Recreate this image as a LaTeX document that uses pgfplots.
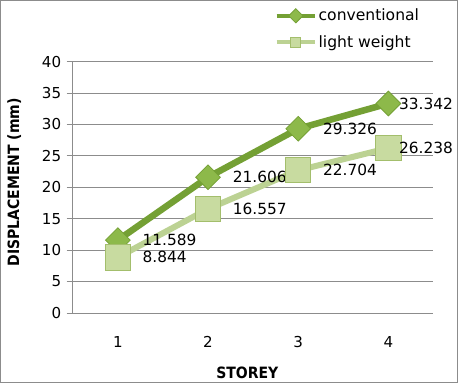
\documentclass[border=0pt]{standalone}
\usepackage{pgfplots}
\pgfplotsset{compat=1.18}
\usepackage{fontspec}
\setmainfont{DejaVu Sans}
\newfontfamily\labfont{DejaVu Sans Condensed}
\definecolor{conv}{HTML}{74A034}
\definecolor{convfill}{HTML}{8DB94A}
\definecolor{lw}{HTML}{BCD293}
\definecolor{lwfill}{HTML}{C8DBA0}
\definecolor{lwdraw}{HTML}{A3BE6C}
\definecolor{gridc}{HTML}{8C8C8C}
\begin{document}
\begin{tikzpicture}[x=1pt,y=1pt]
\begin{axis}[
  at={(0,0)}, anchor=south west,
  scale only axis, width=359pt, height=250pt,
  xmin=0.5, xmax=4.5, ymin=0, ymax=40,
  xtick={1,2,3,4}, ytick={0,5,...,40},
  /pgf/number format/assume math mode=true,
  tick label style={font=\fontsize{15}{17}\selectfont, text=black},
  xtick style={draw=none},
  ytick style={draw=gridc, line width=0.8pt},
  tick align=outside, major tick length=6pt,
  ymajorgrids, grid style={draw=gridc, line width=0.8pt},
  axis line style={draw=gridc, line width=0.8pt},
  axis x line*=bottom, axis y line*=left,
  xticklabel style={yshift=-14pt},
  yticklabel style={xshift=-2pt},
  xlabel={\labfont\bfseries STOREY}, ylabel={\labfont\bfseries DISPLACEMENT (mm)},
  label style={font=\fontsize{15.5}{17}\selectfont},
  xlabel style={at={(axis description cs:0.484,-0.24)}, anchor=center},
  ylabel style={at={(axis description cs:-0.162,0.52)}, anchor=center},
  visualization depends on={x \as \myx},
  nodes near coords,
  nodes near coords style={anchor=west, xshift={ifthenelse(\myx>3.5,7,21)},
     font=\fontsize{15.3}{17}\selectfont, text=black,
     /pgf/number format/.cd, fixed, fixed zerofill, precision=3, assume math mode=true},
  legend style={at={(rel axis cs:0.56,1.218)}, anchor=north west, draw=none, fill=none,
     font=\fontsize{15.5}{17}\selectfont, row sep=9pt, inner sep=0pt,
     cells={anchor=west}},
  legend image code/.code={\draw[mark repeat=2, mark phase=2, #1, line width=3.5pt, mark size=5pt]
     plot coordinates {(0pt,0pt) (19pt,0pt) (38pt,0pt)};},
  clip=false,
]
\addplot[conv, line width=6.5pt, mark=square*, mark size=8.7pt,
  mark options={rotate=45, fill=convfill, draw=conv, line width=0.8pt}]
  coordinates {(1,11.589) (2,21.606) (3,29.326) (4,33.342)};
\addlegendentry{conventional}
\addplot[lw, line width=6pt, mark=square*, mark size=12.5pt,
  mark options={fill=lwfill, draw=lwdraw, line width=0.8pt}]
  coordinates {(1,8.844) (2,16.557) (3,22.704) (4,26.238)};
\addlegendentry{light weight}
\end{axis}
\draw[gridc, line width=0.8pt] (-72,-69) rectangle (383,311);
\end{tikzpicture}
\end{document}
